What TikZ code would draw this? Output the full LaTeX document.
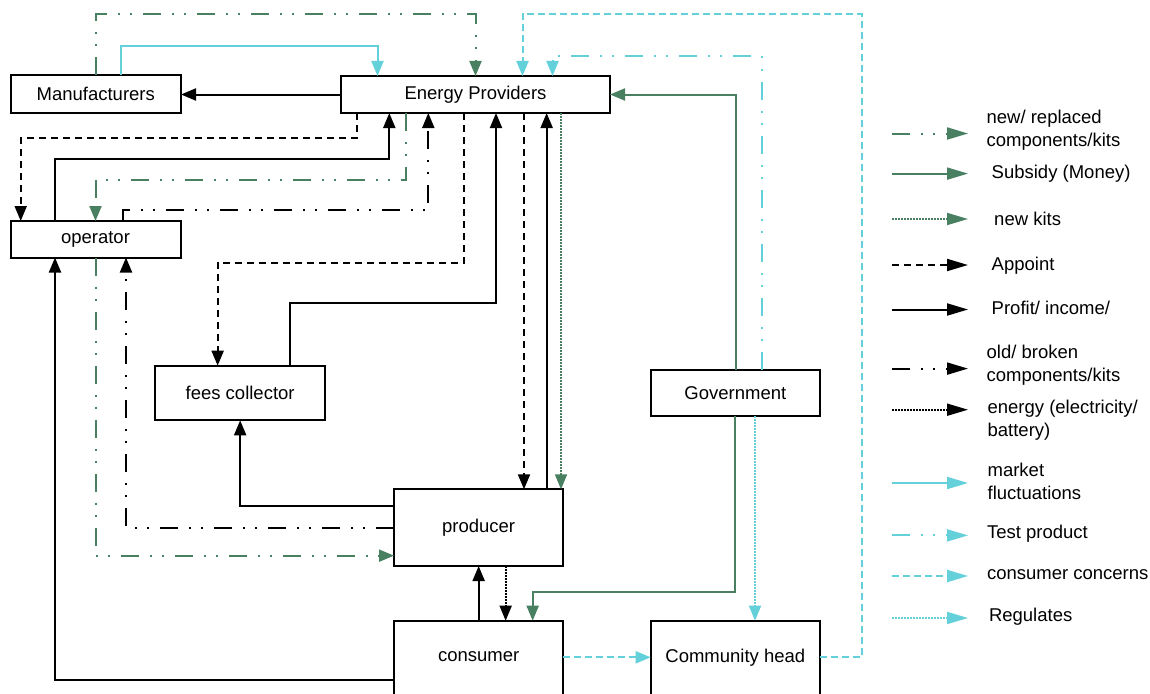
\documentclass[tikz,border=0pt]{standalone}
\usepackage{fontspec}
\setmainfont{Liberation Sans}
\usetikzlibrary{arrows.meta}
\definecolor{flowgreen}{RGB}{74,128,98}
\definecolor{flowcyan}{RGB}{100,208,218}
\begin{document}
\begin{tikzpicture}[x=1pt,y=-1pt,
  font=\fontsize{18.5}{23}\selectfont,
  box/.style={draw=black,line width=2pt,fill=white,inner sep=0pt,outer sep=0pt},
  arr/.style={-{Triangle[length=15pt,width=12pt]}},
  legarr/.style={-{Triangle[length=21pt,width=12pt]}},
  wire/.style={line width=2pt},
  dashdotdot/.style={dash pattern=on 18pt off 11pt on 2pt off 10pt on 2pt off 11pt},
  profit/.style={wire,color=black},
  appoint/.style={wire,color=black,dash pattern=on 7pt off 5pt},
  oldkit/.style={wire,color=black,dashdotdot},
  energy/.style={line width=1.8pt,color=black,dash pattern=on 1.5pt off 1.5pt},
  newcomp/.style={wire,color=flowgreen,dashdotdot},
  subsidy/.style={wire,color=flowgreen},
  newkits/.style={line width=1.8pt,color=flowgreen,dash pattern=on 1.5pt off 1.5pt},
  market/.style={wire,color=flowcyan},
  testprod/.style={wire,color=flowcyan,dashdotdot},
  concern/.style={wire,color=flowcyan,dash pattern=on 7pt off 4pt},
  regulates/.style={line width=1.8pt,color=flowcyan,dash pattern=on 1.5pt off 1.5pt},
  legtext/.style={anchor=west,align=left,inner sep=0pt,text=black}
]
\path[use as bounding box] (0,0) rectangle (1150,693);
\clip (0,0) rectangle (1150,693);

% actors
\node[box,minimum width=170.5pt,minimum height=38pt] (man) at (95.75,94) {Manufacturers};
\node[box,minimum width=269pt,minimum height=37pt] (ep) at (475.5,94.5) {Energy Providers};
\node[box,minimum width=170pt,minimum height=36.5pt] (op) at (95.5,239.25) {operator};
\node[box,minimum width=169.7pt,minimum height=54.6pt] (fees) at (240.15,393) {fees collector};
\node[box,minimum width=169.3pt,minimum height=76.7pt] (prod) at (478.65,527.65) {producer};
\node[box,minimum width=169.3pt,minimum height=46.5pt] (gov) at (735.35,392.75) {Government};
\node[box,anchor=north,minimum width=169.3pt,minimum height=100pt,
      label={[anchor=center,yshift=-36pt]north:consumer}] (cons) at (478.65,620.7) {};
\node[box,anchor=north,minimum width=169.3pt,minimum height=100pt,
      label={[anchor=center,yshift=-37.5pt]north:Community head}] (comm) at (735.35,620.7) {};

% Manufacturers <-> Energy Providers
\draw[profit,arr] (ep.west) -- (ep.west -| man.east);
\draw[newcomp,arr] (man.north) -- ++(0,-60.7) -| (ep.north);
\draw[market,arr] ([xshift=25pt]man.north) -- ++(0,-29.3) -| ([xshift=-98pt]ep.north);

% Community head and Government -> Energy Providers
\draw[concern,arr] ([yshift=13.4pt]comm.east) -- ++(41.7,0) -- ++(0,-643) -| ([xshift=47pt]ep.north);
\draw[testprod,arr] ([xshift=26.3pt]gov.north) -- ++(0,-313.8) -| ([xshift=77pt]ep.north);
\draw[subsidy,arr] ([xshift=0.3pt]gov.north) |- (ep.east);

% Energy Providers <-> operator
\draw[appoint,arr] ([xshift=15.7pt]ep.south west) -- ++(0,25.3) -| ([xshift=10.2pt]op.north west);
\draw[profit,arr] ([xshift=-40.5pt]op.north) -- ++(0,-61.7) -| ([xshift=48.3pt]ep.south west);
\draw[newcomp,arr] ([xshift=65.3pt]ep.south west) -- ++(0,66.7) -| (op.north);
\draw[oldkit,arr] ([xshift=27.2pt]op.north) -- ++(0,-11) -| ([xshift=87.3pt]ep.south west);

% Energy Providers <-> fees collector
\draw[appoint,arr] ([xshift=123.3pt]ep.south west) -- ++(0,149.5) -| ([xshift=-22.5pt]fees.north);
\draw[profit,arr] ([xshift=49.85pt]fees.north) -- ++(0,-62.4) -| ([xshift=155pt]ep.south west);

% Energy Providers <-> producer
\draw[appoint,arr] ([xshift=183pt]ep.south west) -- ([xshift=183pt]ep.south west |- prod.north);
\draw[profit,arr] ([xshift=68pt]prod.north) -- ([xshift=68pt]prod.north |- ep.south);
\draw[newkits,arr] ([xshift=220pt]ep.south west) -- ([xshift=220pt]ep.south west |- prod.north);

% producer <-> fees collector / operator
\draw[profit,arr] ([yshift=22pt]prod.west) -| (fees.south);
\draw[oldkit,arr] (prod.west) -| ([xshift=30.5pt]op.south);
\draw[newcomp,arr] (op.south) |- ([yshift=-28pt]prod.west);

% consumer links
\draw[profit,arr] ([yshift=-9.5pt]cons.west) -| ([xshift=-40.5pt]op.south);
\draw[profit,arr] (cons.north) -- (prod.south);
\draw[energy,arr] ([xshift=27pt]prod.south) -- ([xshift=27pt]prod.south |- cons.north);
\draw[subsidy,arr] (gov.south) -- ++(0,176.3) -| ([xshift=54pt]cons.north);
\draw[regulates,arr] ([xshift=19.65pt]gov.south) -- ([xshift=19.65pt]gov.south |- comm.north);
\draw[concern,arr] ([yshift=13.4pt]cons.east) -- ([yshift=13.4pt]comm.west);

% legend
\coordinate (k1a) at (892,133.5);  \coordinate (k1b) at (968,133.5);
\coordinate (k2a) at (892,173.6);  \coordinate (k2b) at (968,173.6);
\coordinate (k3a) at (892,219);    \coordinate (k3b) at (968,219);
\coordinate (k4a) at (892,265);    \coordinate (k4b) at (968,265);
\coordinate (k5a) at (892,309.5);  \coordinate (k5b) at (968,309.5);
\coordinate (k6a) at (892,368.6);  \coordinate (k6b) at (968,368.6);
\coordinate (k7a) at (892,409.7);  \coordinate (k7b) at (968,409.7);
\coordinate (k8a) at (892,483);    \coordinate (k8b) at (968,483);
\coordinate (k9a) at (892,535.4);  \coordinate (k9b) at (968,535.4);
\coordinate (k10a) at (892,576);   \coordinate (k10b) at (968,576);
\coordinate (k11a) at (892,618);   \coordinate (k11b) at (968,618);
\draw[newcomp,legarr] (k1a) -- (k1b);
\draw[subsidy,legarr] (k2a) -- (k2b);
\draw[newkits,legarr] (k3a) -- (k3b);
\draw[appoint,legarr] (k4a) -- (k4b);
\draw[profit,legarr] (k5a) -- (k5b);
\draw[oldkit,legarr] (k6a) -- (k6b);
\draw[energy,legarr] (k7a) -- (k7b);
\draw[market,legarr] (k8a) -- (k8b);
\draw[testprod,legarr] (k9a) -- (k9b);
\draw[concern,legarr] (k10a) -- (k10b);
\draw[regulates,legarr] (k11a) -- (k11b);

\node[legtext] (t1) at (986.4,130) {new/ replaced\\components/kits};
\node[legtext] (t2) at (991.5,173.6) {Subsidy (Money)};
\node[legtext] (t3) at (994,219) {new kits};
\node[legtext] (t4) at (991.5,266) {Appoint};
\node[legtext] (t5) at (991.5,307.8) {Profit/ income/};
\node[legtext] (t6) at (986.4,365.5) {old/ broken\\components/kits};
\node[legtext] (t7) at (987.4,420.3) {energy (electricity/\\battery)};
\node[legtext] (t8) at (987.4,481.3) {market\\fluctuations};
\node[legtext] (t9) at (986.8,533.7) {Test product};
\node[legtext] (t10) at (986.8,575) {consumer concerns};
\node[legtext] (t11) at (988.8,617) {Regulates};
\end{tikzpicture}
\end{document}
